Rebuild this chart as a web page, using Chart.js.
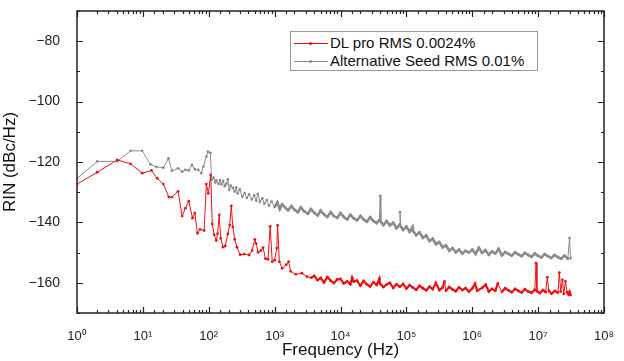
<!DOCTYPE html>
<html>
<head>
<meta charset="utf-8">
<script src="https://cdn.jsdelivr.net/npm/chart.js@4"></script>
<style>
  html, body { margin: 0; padding: 0; background: #fff; }
  #wrap { position: relative; width: 624px; height: 361px; }
  #legend {
    position: absolute; left: 290px; top: 31px; width: 248px; height: 40px;
    border: 1px solid #9a9a9a; background: #fff; box-sizing: border-box;
    font-family: "Liberation Sans", Arial, sans-serif; font-size: 15px; color: #111;
  }
  .row { position: absolute; left: 0; height: 18px; line-height: 18px; white-space: nowrap; }
  .row .ln { position: absolute; left: 3px; top: 9px; width: 34px; height: 1px; }
  .row .dot { position: absolute; left: 18px; top: 8px; width: 3px; height: 3px; border-radius: 50%; }
  .row .tx { position: absolute; left: 39px; top: 0; }
</style>
</head>
<body>
<div id="wrap">
  <canvas id="chart" width="624" height="361"></canvas>
  <div id="legend">
    <div class="row" style="top:2px"><span class="ln" style="background:#ee1111"></span><span class="dot" style="background:#ee1111"></span><span class="tx">DL pro RMS 0.0024%</span></div>
    <div class="row" style="top:20px"><span class="ln" style="background:#8c8c8c"></span><span class="dot" style="background:#8c8c8c"></span><span class="tx">Alternative Seed RMS 0.01%</span></div>
  </div>
</div>
<script>
// DL pro RIN trace: frequency (Hz) and RIN (dBc/Hz)
const dlFreq = [
  1, 2.03, 4.08, 6.5, 9.77, 13.5, 16.5, 20.4, 24.8, 27.6, 34.2, 39.4, 44.2, 49.8, 56.7, 61.5, 67.3, 74, 85, 92, 98.6,
  107, 113, 121, 130, 136, 144, 152, 165, 178, 195, 208, 220, 232, 248, 268, 300, 345, 410, 455, 500, 525, 560,
  620, 670, 725, 795, 855, 920, 1000, 1080, 1110, 1180, 1300, 1500, 1630, 1750, 2100, 2600, 3100, 3600,
  4000, 4470, 5010, 5620, 6310, 7080, 7940, 8910,
  1.0e4, 1.12e4, 1.26e4, 1.41e4, 1.5e4, 1.58e4, 1.78e4, 2.0e4, 2.24e4, 2.51e4, 2.82e4, 3.16e4, 3.55e4, 3.9e4,
  3.98e4, 4.47e4, 5.01e4, 5.62e4, 6.31e4, 7.08e4, 7.94e4, 8.91e4,
  1.0e5, 1.12e5, 1.26e5, 1.41e5, 1.58e5, 1.78e5, 2.0e5, 2.24e5, 2.51e5, 2.8e5, 3.16e5, 3.55e5, 3.8e5, 3.98e5,
  4.47e5, 5.01e5, 5.62e5, 6.31e5, 7.08e5, 7.94e5, 8.91e5,
  1.0e6, 1.1e6, 1.19e6, 1.41e6, 1.6e6, 1.78e6, 2.0e6, 2.24e6, 2.45e6, 2.82e6, 3.16e6, 3.55e6, 3.98e6, 4.47e6,
  5.01e6, 5.62e6, 6.31e6, 7.08e6, 7.94e6, 8.91e6, 9.3e6, 9.6e6,
  1.06e7, 1.19e7, 1.3e7, 1.38e7, 1.45e7, 1.6e7, 1.8e7, 2.0e7, 2.1e7, 2.2e7, 2.34e7, 2.45e7, 2.6e7, 2.75e7,
  2.9e7, 3.0e7, 3.1e7
];
const dlRin = [
  -127.3, -123.4, -119.3, -120.6, -123.7, -122.8, -125.4, -127.3, -131.6, -131.6, -129.7, -137.9, -135.3, -133.0,
  -138.6, -136.9, -143.6, -142.3, -142.7, -127.3, -130.4,
  -124.3, -140.5, -144.1, -146.0, -143.7, -137.5, -145.3, -148.2, -147.8, -143.8, -140.9, -134.5, -141.5, -145.6,
  -148.2, -150.7, -150.5, -150.8, -149.3, -145.6, -147.0, -149.9,
  -149.3, -148.4, -152.0, -152.2, -141.3, -153.0, -152.5, -148.5, -141.0, -153.0, -155.2, -154.0, -153.0, -156.2,
  -157.2, -156.8, -158.0, -158.3,
  -157.7, -159.1, -158.4, -159.9, -158.1, -159.3, -160.1, -158.9,
  -158.7, -160.2, -159.5, -160.5, -158.3, -159.6, -159.3, -160.9, -159.4, -160.5, -161.2, -159.8, -160.7, -158.6,
  -160.3, -161.4, -160.6, -160.0, -161.7, -160.5, -161.3, -160.4,
  -161.9, -160.8, -161.6, -162.3, -161.0, -161.8, -162.5, -161.3, -162.1, -160.0, -162.4, -161.6, -159.5, -162.6,
  -161.4, -162.2, -162.8, -161.5, -162.4, -161.8, -162.9,
  -161.9, -160.3, -162.6, -161.7, -160.6, -162.9, -162.0, -162.6, -160.2, -163.0, -161.8, -162.5, -163.1, -162.0,
  -162.7, -163.2, -162.1, -162.9, -163.3, -162.3, -153.5, -162.8,
  -163.4, -162.4, -163.1, -158.2, -162.6, -163.6, -162.7, -163.3, -156.6, -162.9, -159.0, -163.7, -159.5, -163.1,
  -163.9, -163.0, -164.0
];

// Alternative seed RIN trace
const seedFreq = [
  1, 2.03, 4.08, 6.5, 9.77, 13, 16, 20.4, 24.5, 27.6, 34.2, 39.4, 44.2, 49.8, 55.5, 61.5, 69, 77, 83, 92, 97, 106,
  110, 118, 125, 130, 140, 148, 155, 165, 175, 185, 195, 205, 215, 232, 248, 260, 275, 295, 325, 350, 380, 410,
  450, 490, 525, 555, 600, 650, 700, 760, 820, 900,
  1000, 1100, 1200, 1300, 1450, 1600, 1800, 2000, 2250, 2500, 2800, 3200, 3550, 4000, 4500, 5000, 5600, 6300,
  7100, 7900, 8900,
  1.0e4, 1.12e4, 1.26e4, 1.41e4, 1.58e4, 1.78e4, 2.0e4, 2.24e4, 2.51e4, 2.82e4, 3.16e4, 3.55e4, 3.9e4, 4.0e4,
  4.1e4, 4.47e4, 5.01e4, 5.62e4, 6.31e4, 7.08e4, 7.94e4, 8.0e4, 8.3e4, 8.91e4,
  1.0e5, 1.12e5, 1.24e5, 1.26e5, 1.41e5, 1.58e5, 1.78e5, 2.0e5, 2.24e5, 2.51e5, 2.82e5, 3.16e5, 3.55e5, 3.98e5,
  4.47e5, 5.01e5, 5.62e5, 6.31e5, 7.08e5, 7.94e5, 8.91e5,
  1.0e6, 1.12e6, 1.26e6, 1.41e6, 1.58e6, 1.78e6, 2.0e6, 2.24e6, 2.51e6, 2.82e6, 3.16e6, 3.55e6, 3.98e6, 4.47e6,
  5.01e6, 5.62e6, 6.31e6, 7.08e6, 7.94e6, 8.91e6,
  1.0e7, 1.12e7, 1.26e7, 1.41e7, 1.58e7, 1.78e7, 2.0e7, 2.24e7, 2.51e7, 2.82e7, 3.0e7, 3.1e7
];
const seedRin = [
  -125.4, -119.8, -119.8, -116.3, -116.3, -120.8, -121.6, -121.9, -118.8, -122.9, -122.1, -123.2, -122.6, -122.8,
  -121.0, -122.4, -122.6, -123.7, -121.5, -118.2, -116.6, -117.0,
  -126.0, -125.2, -126.8, -126.1, -127.2, -126.0, -127.4, -126.3, -128.0, -127.2, -125.8, -129.2, -127.8, -128.6,
  -129.8, -128.4, -130.4, -129.1, -131.5, -130.3, -131.9, -130.7,
  -132.4, -131.1, -132.8, -130.6, -133.2, -132.0, -133.8, -132.6, -134.4, -133.1,
  -134.9, -133.4, -135.6, -134.0, -135.1, -136.0, -134.6, -135.8, -136.6, -135.0, -136.3, -137.1, -135.6, -136.8,
  -137.7, -136.1, -137.3, -138.2, -136.6, -137.9, -138.5,
  -136.9, -138.2, -139.0, -137.5, -138.6, -139.3, -137.9, -139.0, -139.8, -138.3, -139.5, -140.2, -139.2, -131.2,
  -139.8, -140.9, -139.6, -141.0, -140.1, -141.9, -140.7, -136.6, -141.5, -142.5,
  -141.4, -143.1, -141.5, -142.9, -144.2, -143.3, -145.1, -144.3, -146.2, -145.4, -147.2, -146.5, -148.3, -147.6,
  -149.4, -148.5, -149.9, -149.0, -150.3, -149.4, -150.0,
  -149.0, -150.5, -148.4, -150.1, -149.2, -150.7, -149.6, -150.3, -148.8, -150.9, -149.8, -150.4, -151.0, -149.9,
  -150.6, -151.2, -150.1, -150.8, -151.4, -150.3,
  -151.1, -151.6, -150.5, -151.2, -151.8, -150.8, -151.5, -152.0, -151.0, -152.1, -145.2, -151.9
];

const supDigits = ['⁰', '¹', '²', '³', '⁴', '⁵', '⁶', '⁷', '⁸', '⁹'];

const RED = '#ee1111';
const GRAY = '#8c8c8c';
const FONT = '"Liberation Sans", Arial, sans-serif';

function isDecade(v) {
  const e = Math.log10(v);
  return Math.abs(e - Math.round(e)) < 1e-6;
}

// thicker strokes where the measured trace is dense, thin lines on the spikes
const denseWidth = (from, w) => ctx => {
  if (ctx.p0.parsed.x < from) return 1;
  return Math.abs(ctx.p1.parsed.y - ctx.p0.parsed.y) > 2.5 ? 1 : w;
};

// frame + inward ticks on all four sides
const frameTicks = {
  id: 'frameTicks',
  afterDraw(chart) {
    const { ctx, chartArea: a, scales } = chart;
    ctx.save();
    ctx.strokeStyle = '#222';
    ctx.lineWidth = 1.2;
    ctx.beginPath();
    scales.x.ticks.forEach(t => {
      const px = Math.round(scales.x.getPixelForValue(t.value)) + 0.5;
      const len = isDecade(t.value) ? 6 : 3;
      ctx.moveTo(px, a.bottom); ctx.lineTo(px, a.bottom - len);
      ctx.moveTo(px, a.top); ctx.lineTo(px, a.top + len);
    });
    scales.y.ticks.forEach(t => {
      const py = Math.round(scales.y.getPixelForValue(t.value)) + 0.5;
      const len = t.value % 20 === 0 ? 6 : 3;
      ctx.moveTo(a.left, py); ctx.lineTo(a.left + len, py);
      ctx.moveTo(a.right, py); ctx.lineTo(a.right - len, py);
    });
    ctx.stroke();
    ctx.lineWidth = 1.5;
    ctx.strokeRect(a.left, a.top, a.right - a.left, a.bottom - a.top);
    ctx.restore();
  }
};

new Chart(document.getElementById('chart'), {
  type: 'line',
  data: {
    datasets: [
      {
        label: 'DL pro RMS 0.0024%',
        data: dlFreq.map((f, i) => ({ x: f, y: dlRin[i] })),
        borderColor: RED,
        backgroundColor: RED,
        borderWidth: 1,
        segment: { borderWidth: denseWidth(3600, 2.2) },
        pointRadius: 1.4,
        pointBorderWidth: 0
      },
      {
        label: 'Alternative Seed RMS 0.01%',
        data: seedFreq.map((f, i) => ({ x: f, y: seedRin[i] })),
        borderColor: GRAY,
        backgroundColor: GRAY,
        borderWidth: 1,
        segment: { borderWidth: denseWidth(1000, 2.6) },
        pointRadius: 1.4,
        pointBorderWidth: 0
      }
    ]
  },
  options: {
    responsive: false,
    animation: false,
    layout: { padding: { top: 11, right: 20, left: 0, bottom: 0 } },
    plugins: { legend: { display: false }, tooltip: { enabled: false } },
    scales: {
      x: {
        type: 'logarithmic',
        min: 1,
        max: 1e8,
        grid: { display: false },
        border: { display: false },
        afterFit: s => { s.height = 48; s.paddingLeft = 0; s.paddingRight = 0; },
        ticks: {
          autoSkip: false,
          maxRotation: 0,
          padding: 8,
          color: '#222',
          font: { family: FONT, size: 13 },
          callback: v => isDecade(v) ? '10' + supDigits[Math.round(Math.log10(v))] : ''
        },
        title: {
          display: true,
          text: 'Frequency (Hz)',
          color: '#111',
          font: { family: FONT, size: 17 },
          padding: { top: 0, bottom: 0 }
        }
      },
      y: {
        min: -170,
        max: -70,
        grid: { display: false },
        border: { display: false },
        afterFit: s => { s.width = 77; s.paddingTop = 0; s.paddingBottom = 0; },
        ticks: {
          stepSize: 10,
          padding: 9,
          color: '#222',
          font: { family: FONT, size: 14 },
          callback: v => v % 20 === 0 ? '\u2212' + Math.abs(v) : ''
        },
        title: {
          display: true,
          text: 'RIN (dBc/Hz)',
          color: '#111',
          font: { family: FONT, size: 17 },
          padding: { top: 0, bottom: 4 }
        }
      }
    }
  },
  plugins: [frameTicks]
});
</script>
</body>
</html>
